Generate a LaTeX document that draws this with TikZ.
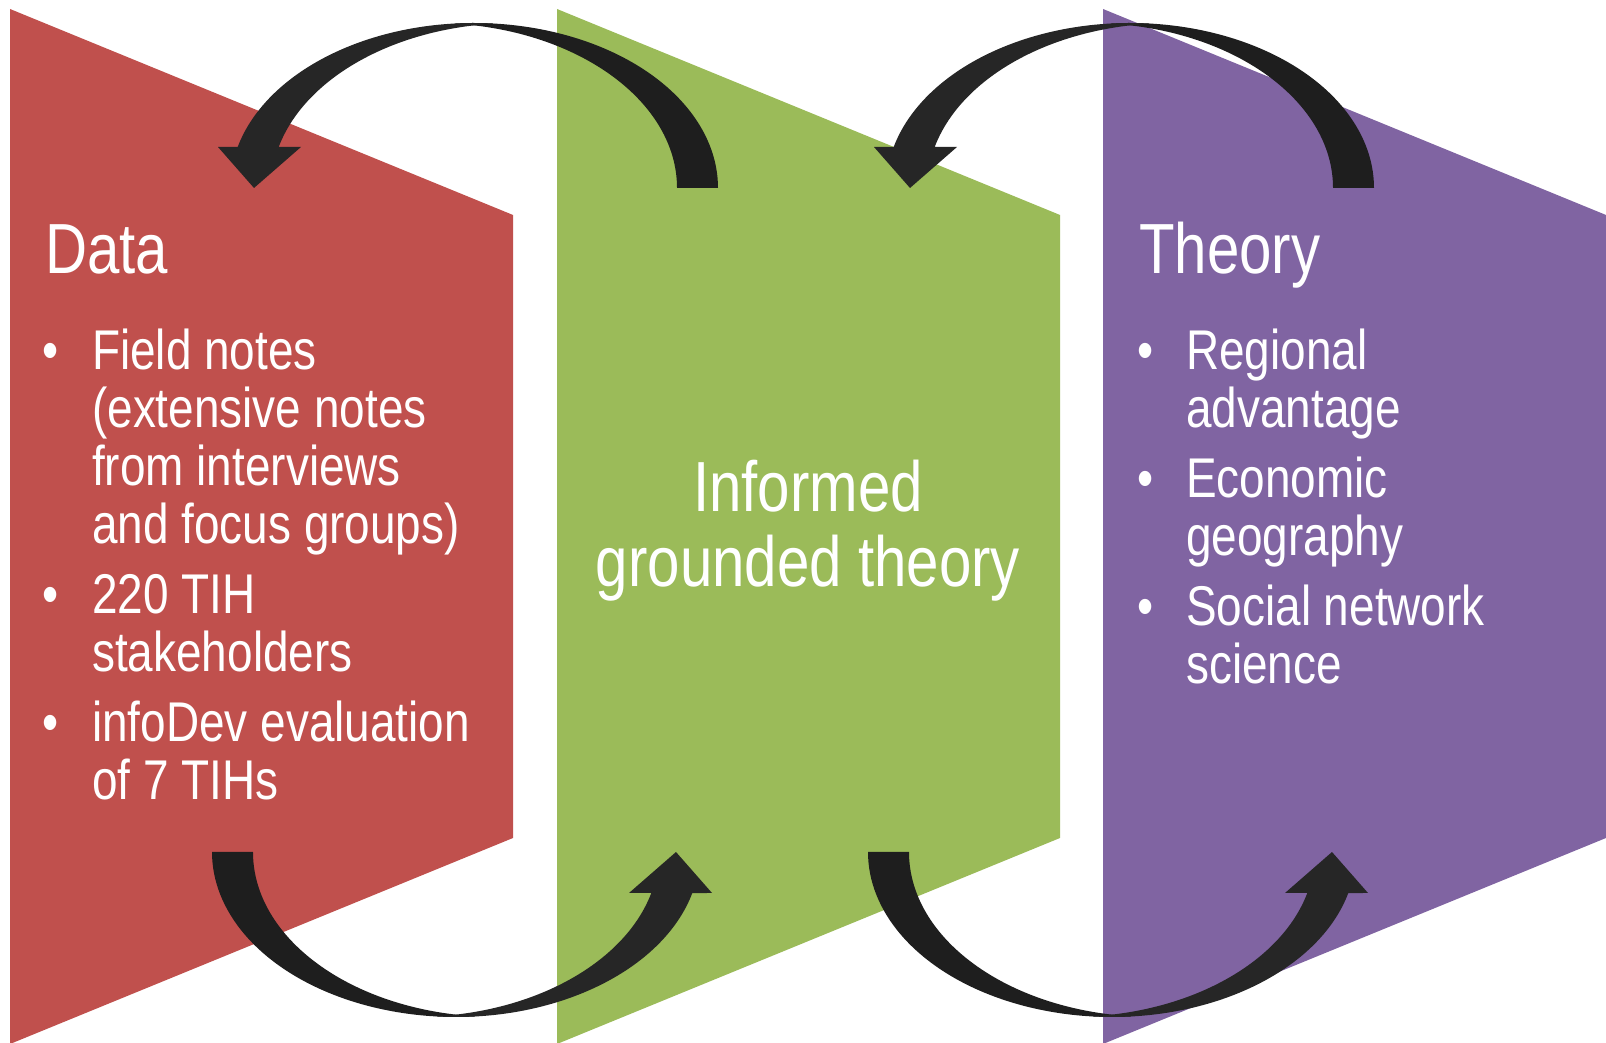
\documentclass[tikz,border=0pt]{standalone}
\usepackage{fontspec}
\newfontfamily\narrow{Liberation Sans}[FakeStretch=0.82]
\definecolor{datared}{HTML}{C0504D}
\definecolor{mixgreen}{HTML}{9BBB59}
\definecolor{theorypurple}{HTML}{8064A2}
\definecolor{arrowfront}{HTML}{262626}
\definecolor{arrowback}{HTML}{1E1E1E}
\tikzset{
	cyclearrow/.pic={
		\fill[arrowback] (244,0) arc[start angle=0, end angle=94.82, x radius=244, y radius=165]
			arc[start angle=85.18, end angle=0, x radius=244, y radius=165] -- cycle;
		\fill[arrowfront] (20.5,164.4) arc[start angle=85.18, end angle=165.6, x radius=244, y radius=165]
			-- (-256,41) -- (-220,0) -- (-173,41) -- (-195.3,41)
			arc[start angle=165.6, end angle=94.82, x radius=244, y radius=165] -- cycle;
	},
	item/.style={text=white, inner sep=0pt, anchor=base west, font=\narrow\fontsize{56}{58}\selectfont},
	dot/.style={item, anchor=base},
	heading/.style={item, font=\narrow\fontsize{71}{75}\selectfont},
}
\begin{document}
\begin{tikzpicture}[x=1pt, y=1pt]
	\useasboundingbox (0,0) rectangle (1606,1043);
	% panels
	\fill[datared] (10,1034) -- (513,828) -- (513,205) -- (10,-1) -- cycle;
	\fill[mixgreen] (557,1034) -- (1060,828) -- (1060,205) -- (557,-1) -- cycle;
	\fill[theorypurple] (1103,1034) -- (1606,828) -- (1606,205) -- (1103,-1) -- cycle;
	% loop arrows
	\pic at (474,855) {cyclearrow};
	\pic at (1130,855) {cyclearrow};
	\pic[rotate=180] at (456,191) {cyclearrow};
	\pic[rotate=180] at (1112,191) {cyclearrow};
	% data
	\node[heading] (data) at (45,769) {Data};
	\foreach \y/\t [count=\i] in {673/Field notes, 615/{(extensive notes}, 557/from interviews,
		499/{and focus groups)}, 429/220 TIH, 371/stakeholders, 301/infoDev evaluation, 243/of 7 TIHs}
		\node[item] (data-\i) at (92,\y) {\t};
	\foreach \y [count=\i] in {673,429,301}
		\node[dot] (datadot-\i) at (51,\y) {•};
	% middle
	\node[heading, anchor=base] (mid-1) at (808,531) {Informed};
	\node[heading, anchor=base] (mid-2) at (808,456) {grounded theory};
	% theory
	\node[heading] (theory) at (1139,769) {Theory};
	\foreach \y/\t [count=\i] in {673/Regional, 615/advantage, 545/Economic, 487/geography,
		417/Social network, 359/science}
		\node[item] (theory-\i) at (1186,\y) {\t};
	\foreach \y [count=\i] in {673,545,417}
		\node[dot] (theorydot-\i) at (1146,\y) {•};
\end{tikzpicture}
\end{document}
